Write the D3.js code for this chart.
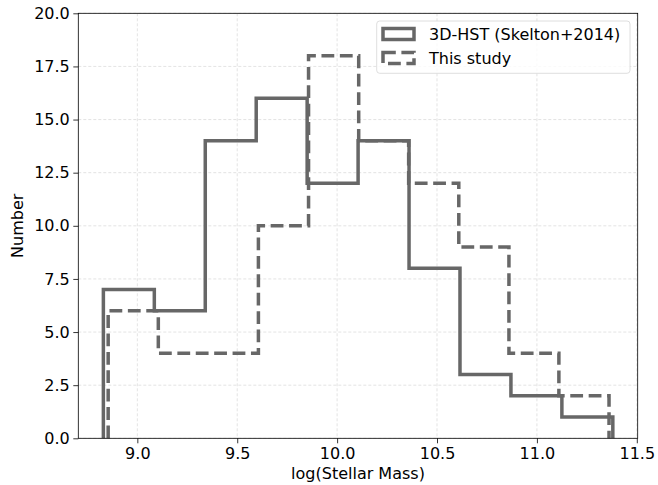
<!DOCTYPE html>
<html>
<head>
<meta charset="utf-8">
<script src="https://cdn.jsdelivr.net/npm/d3@7"></script>
<style>
html,body{margin:0;padding:0;background:#fff;}
svg{display:block;font-family:"DejaVu Sans",sans-serif;}
</style>
</head>
<body>
<svg id="chart" width="658" height="485"></svg>
<script>
// Data
const skeltonEdges = [8.83, 9.085, 9.34, 9.595, 9.85, 10.105, 10.36, 10.615, 10.87, 11.125, 11.38];
const skeltonCounts = [7, 6, 14, 16, 12, 14, 8, 3, 2, 1];
const studyEdges = [8.854, 9.105, 9.356, 9.606, 9.857, 10.108, 10.358, 10.609, 10.86, 11.11, 11.361];
const studyCounts = [6, 4, 4, 10, 18, 14, 12, 9, 4, 2];
const xTicks = [9.0, 9.5, 10.0, 10.5, 11.0, 11.5];
const yTicks = [0, 2.5, 5, 7.5, 10, 12.5, 15, 17.5, 20];
const seriesNames = ["3D-HST (Skelton+2014)", "This study"];

const svg = d3.select("#chart");
const m = {left: 78.3, right: 637.7, top: 13.3, bottom: 438.3};
const x = d3.scaleLinear().domain([8.7045, 11.5045]).range([m.left, m.right]);
const y = d3.scaleLinear().domain([0, 20]).range([m.bottom, m.top]);
const color = "#676767";
const fs = 16;

// grid
const grid = svg.append("g");
xTicks.forEach(t => grid.append("line")
  .attr("x1", x(t)).attr("x2", x(t)).attr("y1", m.top).attr("y2", m.bottom)
  .attr("stroke", "#dcdcdc").attr("stroke-width", 0.8).attr("stroke-dasharray", "3,2"));
yTicks.forEach(t => grid.append("line")
  .attr("y1", y(t)).attr("y2", y(t)).attr("x1", m.left).attr("x2", m.right)
  .attr("stroke", "#dcdcdc").attr("stroke-width", 0.8).attr("stroke-dasharray", "3,2"));

function stepPath(edges, counts) {
  const pts = [[edges[0], 0]];
  counts.forEach((c, i) => { pts.push([edges[i], c]); pts.push([edges[i + 1], c]); });
  pts.push([edges[edges.length - 1], 0]);
  return d3.line().x(d => x(d[0])).y(d => y(d[1]))(pts);
}

svg.append("path").attr("d", stepPath(skeltonEdges, skeltonCounts))
  .attr("fill", "none").attr("stroke", color).attr("stroke-width", 3.5)
  .attr("stroke-linejoin", "miter");
svg.append("path").attr("d", stepPath(studyEdges, studyCounts))
  .attr("fill", "none").attr("stroke", color).attr("stroke-width", 3.5)
  .attr("stroke-dasharray", "12.8,5.6").attr("stroke-linejoin", "miter");

// axes
const xAxis = svg.append("g").attr("transform", `translate(0,${m.bottom})`)
  .call(d3.axisBottom(x).tickValues(xTicks).tickFormat(d3.format(".1f")).tickSize(5).tickPadding(4));
const yAxis = svg.append("g").attr("transform", `translate(${m.left},0)`)
  .call(d3.axisLeft(y).tickValues(yTicks).tickFormat(d3.format(".1f")).tickSize(5).tickPadding(3.5));
[xAxis, yAxis].forEach(a => {
  a.select(".domain").remove();
  a.selectAll("text").attr("font-size", fs).attr("fill", "#000").attr("font-family", "DejaVu Sans");
  a.selectAll("line").attr("stroke", "#000").attr("stroke-width", 0.8);
});

// spines
svg.append("rect").attr("x", m.left).attr("y", m.top)
  .attr("width", m.right - m.left).attr("height", m.bottom - m.top)
  .attr("fill", "none").attr("stroke", "#000").attr("stroke-width", 0.8);

// labels
svg.append("text").attr("x", (m.left + m.right) / 2).attr("y", 479)
  .attr("text-anchor", "middle").attr("font-size", fs).text("log(Stellar Mass)");
svg.append("text").attr("transform", `translate(23,${(m.top + m.bottom) / 2}) rotate(-90)`)
  .attr("text-anchor", "middle").attr("font-size", fs).text("Number");

// legend
const lg = svg.append("g");
lg.append("rect").attr("x", 376.7).attr("y", 21).attr("width", 253.3).attr("height", 52.3)
  .attr("rx", 3).attr("fill", "#fff").attr("fill-opacity", 0.8)
  .attr("stroke", "#d5d5d5").attr("stroke-width", 0.8);
seriesNames.forEach((name, i) => {
  const cy = 34 + i * 24;
  lg.append("rect").attr("x", 383).attr("y", cy - 5.5).attr("width", 31).attr("height", 11)
    .attr("fill", "none").attr("stroke", color).attr("stroke-width", 3.5)
    .attr("stroke-dasharray", i === 1 ? "12.8,5.6" : null);
  lg.append("text").attr("x", 429).attr("y", cy + 5.5).attr("font-size", fs).text(name);
});
</script>
</body>
</html>
